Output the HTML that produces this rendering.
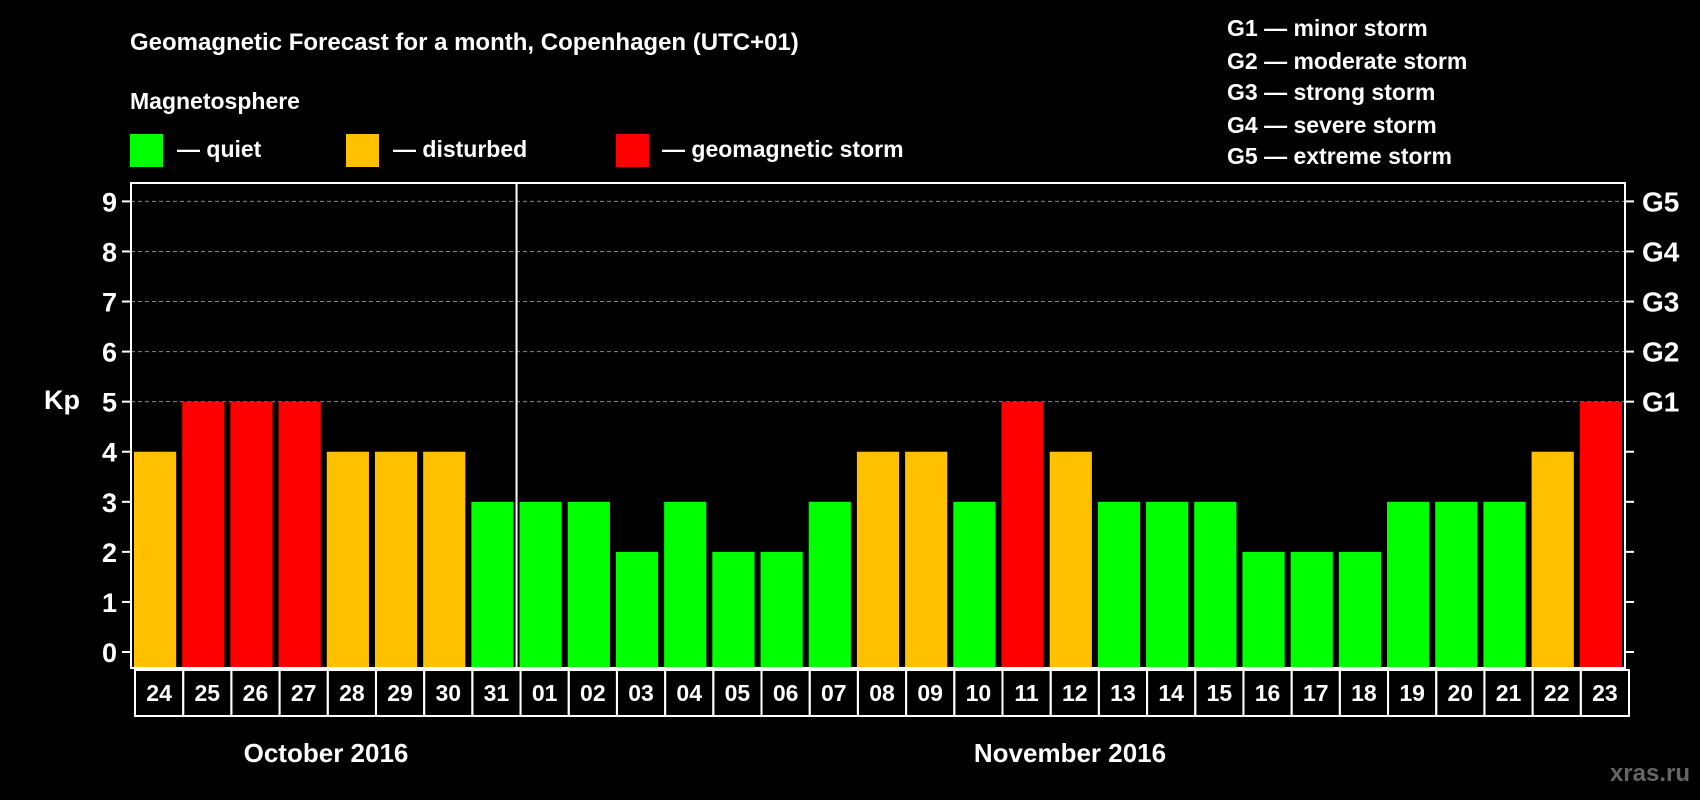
<!DOCTYPE html>
<html><head><meta charset="utf-8"><style>
html,body{margin:0;padding:0;background:#000;}
svg{display:block;font-family:"Liberation Sans",Arial,sans-serif;font-weight:bold;}
</style></head><body>
<svg id="chart" width="1700" height="800" viewBox="0 0 1700 800">
<rect x="0" y="0" width="1700" height="800" fill="#000"/>
<text x="130" y="50" fill="#fff" font-size="24">Geomagnetic Forecast for a month, Copenhagen (UTC+01)</text>
<text x="130" y="109" fill="#fff" font-size="23">Magnetosphere</text>
<g><rect x="130" y="134" width="33" height="33" fill="#00ff00"/><text x="177" y="157" fill="#fff" font-size="23">— quiet</text></g>
<g><rect x="346" y="134" width="33" height="33" fill="#ffc000"/><text x="393" y="157" fill="#fff" font-size="23">— disturbed</text></g>
<g><rect x="616" y="134" width="33" height="33" fill="#ff0000"/><text x="662" y="157" fill="#fff" font-size="23">— geomagnetic storm</text></g>
<g fill="#fff" font-size="23">
<text x="1227" y="36">G1 — minor storm</text>
<text x="1227" y="69">G2 — moderate storm</text>
<text x="1227" y="100">G3 — strong storm</text>
<text x="1227" y="133">G4 — severe storm</text>
<text x="1227" y="164">G5 — extreme storm</text>
</g>
<text x="62" y="409" fill="#fff" font-size="27" text-anchor="middle">Kp</text>
<g id="grid"></g><g id="bars"></g><g id="axes"></g><g id="xlabels"></g>
<text x="326" y="762" fill="#fff" font-size="26" text-anchor="middle">October 2016</text>
<text x="1070" y="762" fill="#fff" font-size="26" text-anchor="middle">November 2016</text>
<text x="1690" y="781" fill="#666" font-size="24" text-anchor="end">xras.ru</text>
</svg>
<script>
const days = ["24","25","26","27","28","29","30","31","01","02","03","04","05","06","07","08","09","10","11","12","13","14","15","16","17","18","19","20","21","22","23"];
const kpValues = [4,5,5,5,4,4,4,3,3,3,2,3,2,2,3,4,4,3,5,4,3,3,3,2,2,2,3,3,3,4,5];
const yTicks = [0,1,2,3,4,5,6,7,8,9];
const gLabels = ["G1","G2","G3","G4","G5"];
const monthSplit = 8;

const NS="http://www.w3.org/2000/svg";
const L=131,R=1625,T=183,B=668,Y0=652,Y9=201.4;
const yS=v=>Y0+(Y9-Y0)*v/9;
const slot=(R-L)/days.length;
const xS=i=>L+i*slot;
function mk(tag,attrs,parent){const e=document.createElementNS(NS,tag);for(const k in attrs)e.setAttribute(k,attrs[k]);parent.appendChild(e);return e;}
const grid=document.getElementById('grid'),bars=document.getElementById('bars'),axes=document.getElementById('axes'),xl=document.getElementById('xlabels');
yTicks.forEach(v=>{
  if(v>=5){const g=mk('line',{x1:L,x2:R,y1:yS(v),y2:yS(v),stroke:'#888','stroke-width':1,'stroke-dasharray':'4,3'},grid);
  
  }
  const t=mk('line',{x1:L-9,x2:L,y1:yS(v),y2:yS(v),stroke:'#fff','stroke-width':2},axes);
  
  
  const t2=mk('line',{x1:R,x2:R+9,y1:yS(v),y2:yS(v),stroke:'#fff','stroke-width':2},axes);
  
  
  const lb=mk('text',{x:L-14,y:yS(v)+10,fill:'#fff','font-size':27,'text-anchor':'end'},axes);lb.textContent=v;
  
  
});
gLabels.forEach((g,i)=>{
  const lb=mk('text',{x:R+17,y:yS(5+i)+10,fill:'#fff','font-size':28},axes);lb.textContent=g;
  
  
});
kpValues.forEach((v,i)=>{
  const c=v>=5?'#ff0000':(v>=4?'#ffc000':'#00ff00');
  const b=mk('rect',{x:xS(i)+3,y:yS(v),width:slot-6,height:B-yS(v),fill:c},bars);
  
  
});
const fr=mk('rect',{x:L,y:T,width:R-L,height:B-T,fill:'none',stroke:'#fff','stroke-width':2},axes);


const dv=mk('line',{x1:xS(monthSplit),x2:xS(monthSplit),y1:T,y2:B,stroke:'#fff','stroke-width':2},axes);


days.forEach((d,i)=>{
  const bx=mk('rect',{x:xS(i)+4,y:670,width:slot,height:46,fill:'none',stroke:'#fff','stroke-width':2},xl);
  
  
  const t=mk('text',{x:xS(i)+4+slot/2,y:701,fill:'#fff','font-size':23,'text-anchor':'middle'},xl);t.textContent=d;
  
  
});
</script>
</body></html>
